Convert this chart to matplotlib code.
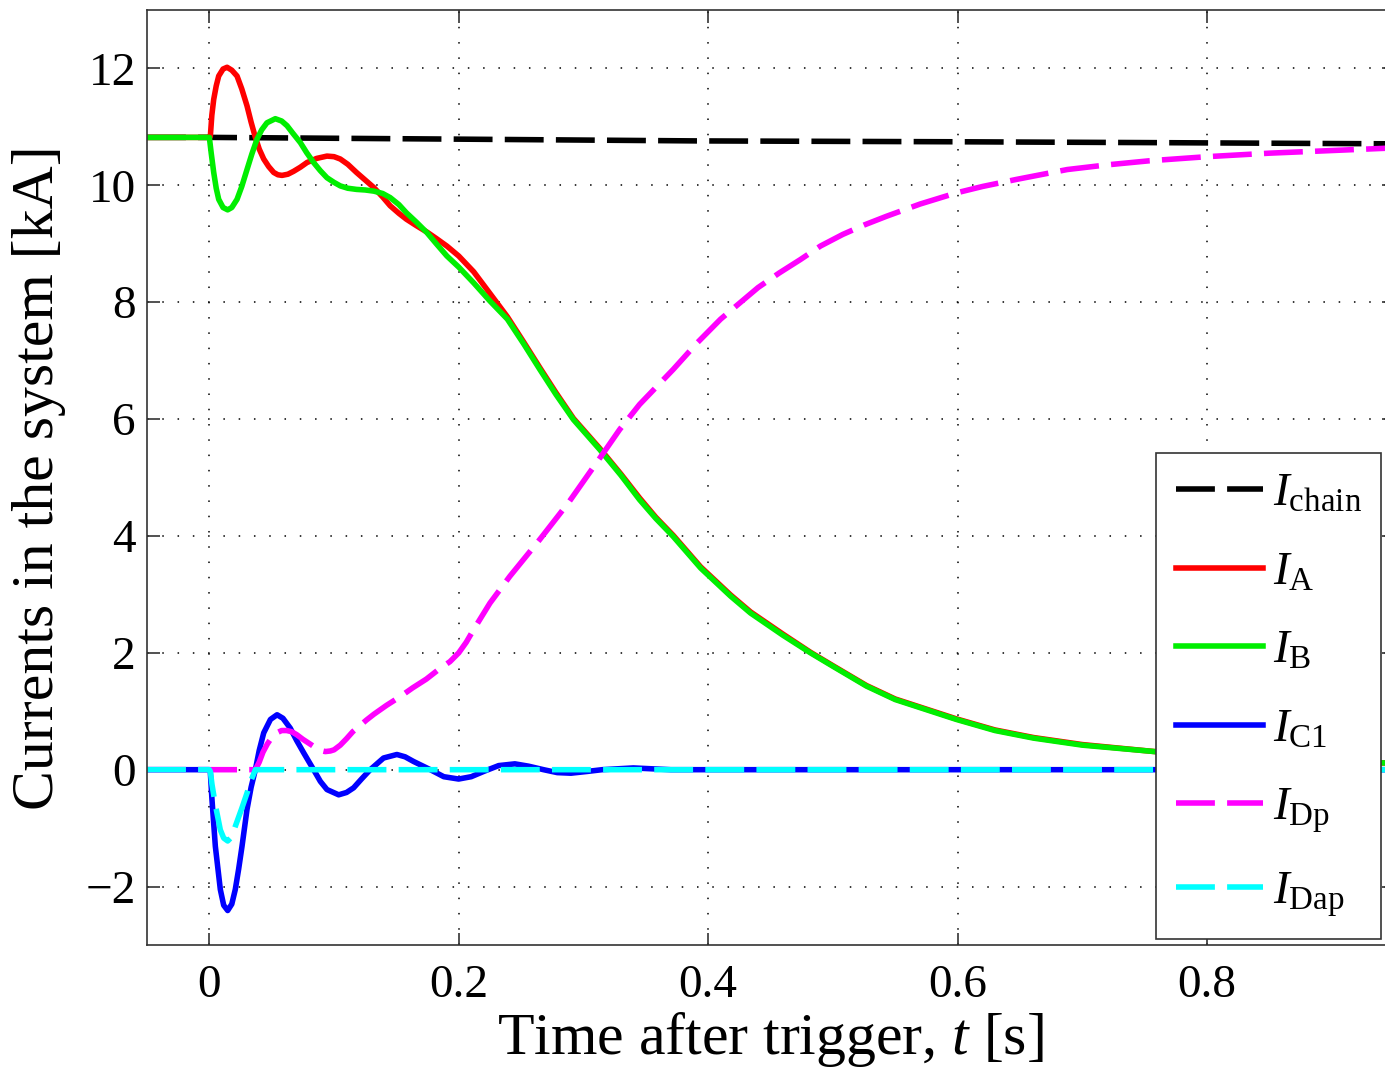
import matplotlib
matplotlib.use('Agg')
import matplotlib.pyplot as plt

### Fonts (Times-like, MATLAB export look)
plt.rcParams['font.family'] = ['Liberation Serif', 'DejaVu Serif']
plt.rcParams['mathtext.fontset'] = 'custom'
plt.rcParams['mathtext.rm'] = 'Liberation Serif'
plt.rcParams['mathtext.it'] = 'Liberation Serif:italic'

### Data (time in s, currents in kA)
t_chain = [-0.05, 0.0, 0.2, 0.39, 0.6, 0.76, 0.95]
i_chain = [10.82, 10.82, 10.79, 10.76, 10.745, 10.73, 10.71]

t_A = [-0.05, 0.0, 0.0008, 0.002, 0.0035, 0.0055, 0.0075, 0.011, 0.0142, 0.018,
       0.0222, 0.026, 0.0302, 0.0335, 0.0369, 0.040, 0.0436, 0.0476, 0.0516, 0.055,
       0.0583, 0.063, 0.0676, 0.073, 0.0783, 0.086, 0.0943, 0.1, 0.105, 0.111,
       0.118, 0.125, 0.132, 0.139, 0.145, 0.152, 0.158, 0.166, 0.1745, 0.182,
       0.1905, 0.2, 0.212, 0.225, 0.239, 0.252, 0.265, 0.278, 0.292, 0.313,
       0.33, 0.345, 0.358, 0.372, 0.394, 0.418, 0.434, 0.46, 0.482, 0.5,
       0.527, 0.55, 0.599, 0.63, 0.661, 0.7, 0.758, 0.85, 0.95]
i_A = [10.82, 10.82, 10.84, 11.2, 11.47, 11.7, 11.87, 11.99, 12.02, 11.97,
       11.87, 11.65, 11.36, 11.08, 10.82, 10.62, 10.45, 10.32, 10.22, 10.18,
       10.17, 10.19, 10.24, 10.31, 10.39, 10.46, 10.50, 10.49, 10.45, 10.36,
       10.22, 10.09, 9.96, 9.80, 9.65, 9.52, 9.42, 9.31, 9.20, 9.09,
       8.96, 8.79, 8.52, 8.15, 7.75, 7.32, 6.88, 6.45, 6.01, 5.50,
       5.06, 4.65, 4.32, 4.01, 3.47, 2.99, 2.70, 2.32, 2.01, 1.78,
       1.44, 1.21, 0.87, 0.68, 0.55, 0.43, 0.31, 0.18, 0.11]

t_B = [-0.05, 0.0, 0.0015, 0.0035, 0.0055, 0.0075, 0.011, 0.0147, 0.018, 0.0222,
       0.026, 0.0302, 0.034, 0.0382, 0.042, 0.0462, 0.0529, 0.058, 0.0623, 0.067,
       0.073, 0.078, 0.0836, 0.089, 0.0943, 0.1, 0.105, 0.111, 0.118, 0.125,
       0.132, 0.139, 0.145, 0.152, 0.158, 0.166, 0.1745, 0.182, 0.1905, 0.2,
       0.212, 0.225, 0.239, 0.252, 0.265, 0.278, 0.292, 0.313, 0.33, 0.345,
       0.358, 0.372, 0.394, 0.418, 0.434, 0.46, 0.482, 0.5, 0.527, 0.55,
       0.599, 0.63, 0.661, 0.7, 0.758, 0.85, 0.95]
i_B = [10.82, 10.82, 10.55, 10.22, 9.95, 9.76, 9.62, 9.58, 9.62, 9.76,
       9.98, 10.27, 10.53, 10.79, 10.95, 11.07, 11.14, 11.10, 11.02, 10.89,
       10.73, 10.56, 10.39, 10.25, 10.13, 10.05, 9.99, 9.95, 9.93, 9.92,
       9.90, 9.86, 9.79, 9.67, 9.53, 9.37, 9.19, 9.00, 8.79, 8.60,
       8.33, 8.02, 7.71, 7.29, 6.85, 6.42, 5.99, 5.48, 5.04, 4.62,
       4.30, 3.99, 3.45, 2.97, 2.68, 2.30, 2.0, 1.77, 1.43, 1.20,
       0.86, 0.67, 0.54, 0.42, 0.31, 0.18, 0.11]

t_C1 = [-0.05, 0.0, 0.0008, 0.0021, 0.0048, 0.0088, 0.0115, 0.0147, 0.018, 0.0208,
        0.0235, 0.0262, 0.0302, 0.0335, 0.0369, 0.040, 0.0436, 0.049, 0.0543, 0.059,
        0.0649, 0.07, 0.0756, 0.0836, 0.089, 0.0943, 0.1037, 0.11, 0.1157, 0.122,
        0.129, 0.1397, 0.1504, 0.157, 0.1638, 0.1772, 0.188, 0.1999, 0.21, 0.22,
        0.232, 0.245, 0.256, 0.268, 0.279, 0.29, 0.303, 0.315, 0.34, 0.37, 0.95]
i_C1 = [0.0, 0.0, -0.05, -0.51, -1.31, -2.05, -2.32, -2.41, -2.30, -2.05,
        -1.70, -1.31, -0.68, -0.30, 0.0, 0.33, 0.63, 0.86, 0.94, 0.88,
        0.71, 0.50, 0.29, 0.0, -0.20, -0.34, -0.43, -0.39, -0.31, -0.16,
        0.0, 0.20, 0.26, 0.22, 0.14, 0.0, -0.12, -0.16, -0.12, -0.03,
        0.07, 0.10, 0.06, 0.0, -0.05, -0.06, -0.03, 0.0, 0.03, 0.0, 0.0]

t_Dp = [-0.05, 0.0369, 0.040, 0.043, 0.0465, 0.05, 0.054, 0.058, 0.062, 0.066,
        0.07, 0.075, 0.08, 0.085, 0.089, 0.093, 0.097, 0.1, 0.105, 0.11,
        0.115, 0.12, 0.126, 0.132, 0.142, 0.153, 0.163, 0.174, 0.183, 0.193,
        0.2, 0.206, 0.212, 0.225, 0.241, 0.265, 0.288, 0.316, 0.329, 0.345,
        0.372, 0.391, 0.41, 0.425, 0.44, 0.457, 0.474, 0.49, 0.508, 0.525,
        0.543, 0.57, 0.599, 0.62, 0.647, 0.688, 0.72, 0.754, 0.8, 0.85, 0.95]
i_Dp = [0.0, 0.0, 0.13, 0.30, 0.44, 0.55, 0.63, 0.67, 0.67, 0.65,
        0.60, 0.52, 0.45, 0.38, 0.33, 0.31, 0.32, 0.34, 0.42, 0.53,
        0.65, 0.74, 0.85, 0.95, 1.10, 1.25, 1.40, 1.55, 1.70, 1.85,
        2.0, 2.18, 2.40, 2.85, 3.31, 3.94, 4.57, 5.42, 5.82, 6.25,
        6.85, 7.30, 7.71, 7.98, 8.25, 8.50, 8.73, 8.96, 9.16, 9.32,
        9.47, 9.68, 9.87, 9.98, 10.10, 10.27, 10.35, 10.42, 10.49, 10.55, 10.64]

t_Dap = [-0.05, 0.0, 0.0008, 0.0021, 0.0048, 0.0088, 0.0115, 0.0147, 0.018, 0.0208,
         0.0262, 0.0302, 0.0335, 0.0369, 0.95]
i_Dap = [0.0, 0.0, -0.03, -0.25, -0.60, -1.03, -1.17, -1.22, -1.15, -0.97,
         -0.65, -0.40, -0.18, 0.0, 0.0]

x_ticks = [0, 0.2, 0.4, 0.6, 0.8]
x_labels = ['0', '0.2', '0.4', '0.6', '0.8']
y_ticks = [-2, 0, 2, 4, 6, 8, 10, 12]
y_labels = ['\u22122', '0', '2', '4', '6', '8', '10', '12']

### Figure
fig = plt.figure(figsize=(13.85, 10.68), dpi=100)
ax = fig.add_axes([147/1385, 1 - 945/1068, (1394 - 147)/1385, (945 - 10)/1068])

lw = 4.0
dash = (7.0, 2.2)
kw = dict(lw=lw, solid_joinstyle='round', dash_joinstyle='round')
ax.plot(t_chain, i_chain, color='k', dashes=dash, label=r'$I_{\mathrm{chain}}$', **kw)
ax.plot(t_A, i_A, color='#ff0000', label=r'$I_{\mathrm{A}}$', **kw)
ax.plot(t_B, i_B, color='#00ee00', label=r'$I_{\mathrm{B}}$', **kw)
ax.plot(t_C1, i_C1, color='#0000ff', label=r'$I_{\mathrm{C1}}$', **kw)
ax.plot(t_Dp, i_Dp, color='#ff00ff', dashes=dash, label=r'$I_{\mathrm{Dp}}$', **kw)
ax.plot(t_Dap, i_Dap, color='#00ffff', dashes=dash, label=r'$I_{\mathrm{Dap}}$', **kw)

ax.set_xlim(-0.05, 0.95)
ax.set_ylim(-3, 13)
ax.set_xticks(x_ticks)
ax.set_xticklabels(x_labels)
ax.set_yticks(y_ticks)
ax.set_yticklabels(y_labels)

ax.grid(True, color='k', linestyle=(0, (1, 9)), linewidth=1.1)
ax.tick_params(direction='in', length=9, width=1.1, top=True, right=True,
               labelsize=34, colors='#222222', labelcolor='k')
ax.tick_params(axis='x', pad=14)
ax.tick_params(axis='y', pad=8)
for s in ax.spines.values():
    s.set_linewidth(1.2)
    s.set_color('#333333')

ax.set_xlabel(r'Time after trigger, $t$ [s]', fontsize=43, labelpad=2)
ax.set_ylabel('Currents in the system [kA]', fontsize=43, labelpad=14)

leg = ax.legend(loc='upper left', bbox_to_anchor=(1156/1385, 1 - 453/1068),
                bbox_transform=fig.transFigure, fontsize=34, handlelength=1.85,
                handletextpad=0.2, labelspacing=0.75, borderpad=0.42,
                fancybox=False, framealpha=1, borderaxespad=0)
leg.get_frame().set_edgecolor('#333333')
leg.get_frame().set_linewidth(1.2)

fig.savefig('out.png', dpi=100)
